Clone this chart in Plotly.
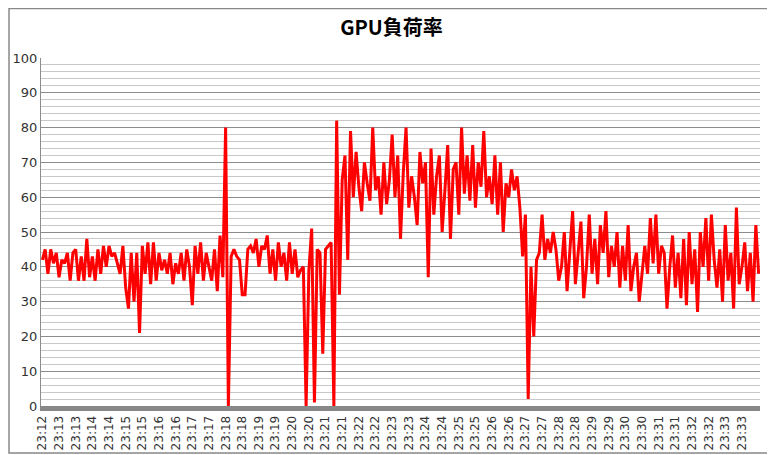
import plotly.graph_objects as go

labels = ["23:12","23:13","23:13","23:14","23:14","23:15","23:15","23:16","23:16","23:17","23:17",
          "23:18","23:18","23:19","23:19","23:20","23:20","23:21","23:21","23:22","23:22","23:23",
          "23:23","23:24","23:24","23:25","23:25","23:26","23:26","23:27","23:27","23:28","23:28",
          "23:29","23:29","23:30","23:30","23:31","23:31","23:32","23:32","23:33","23:33"]

gpu = [42,45,38,45,41,44,37,42,41,44,
       36,44,45,36,43,36,48,37,43,36,
       45,38,46,40,46,43,44,41,38,46,
       34,28,44,30,44,21,46,38,47,35,
       47,36,44,39,42,38,44,35,41,38,
       44,36,45,40,29,46,38,47,36,44,
       40,36,45,33,49,37,
       80,0,43,45,43,42,32,32,45,46,44,48,40,46,45,49,38,45,36,47,40,44,36,47,38,45,37,39,
       40,0,39,51,1,45,44,15,45,46,47,0,82,32,65,72,42,79,60,73,63,
       56,70,64,59,80,62,66,55,70,58,
       65,78,60,72,48,67,80,57,66,60,
       52,73,64,70,37,74,55,66,72,50,
       62,75,48,68,70,55,80,61,72,59,
       75,57,70,63,79,60,66,58,72,55,
       70,50,64,60,68,62,66,
       57,43,55,2,40,20,42,44,
       55,42,48,44,50,45,36,40,50,33,
       46,56,35,43,53,31,40,55,38,48,
       35,52,44,56,37,46,40,50,34,46,
       36,52,33,40,44,30,38,46,38,54,
       41,55,38,46,44,28,40,49,34,44,
       31,48,29,50,35,45,27,50,40,54,
       36,55,42,34,45,30,52,36,44,28,
       57,35,40,47,33,44,30,52,38]

step = 6
xs = list(range(len(gpu)))

fig = go.Figure(go.Scatter(x=xs, y=gpu, mode="lines",
                           line=dict(color="#ff0000", width=3)))

fig.update_layout(
    width=767, height=447,
    margin=dict(l=33, r=15, t=50, b=49),
    paper_bgcolor="white", plot_bgcolor="white",
    showlegend=False,
    font=dict(family="Noto Sans CJK JP, DejaVu Sans", size=12, color="#333333"),
    title=dict(text="<b>GPU負荷率</b>", x=0.5, xanchor="center", y=0.955, yanchor="middle",
               font=dict(size=20, color="black", family="Noto Sans CJK JP")),
    shapes=[dict(type="rect", xref="paper", yref="paper",
                 x0=-0.0445, x1=1.018, y0=-0.135, y1=1.142,
                 line=dict(color="#888888", width=1.5))],
)
fig.update_xaxes(range=[-0.5, len(gpu) - 0.5], automargin=False,
                 tickvals=[i * step for i in range(len(labels))], ticktext=labels,
                 tickangle=-90, showgrid=False, zeroline=False,
                 showline=True, linecolor="#888888", linewidth=5,
                 tickfont=dict(size=12, family="DejaVu Sans", color="#333333"))
fig.update_yaxes(range=[0, 100], dtick=10, gridcolor="#8c8c8c", gridwidth=1, automargin=False,
                 zeroline=False, showline=True, linecolor="#8c8c8c", linewidth=1,
                 minor=dict(dtick=2, showgrid=True, gridcolor="#c8c8c8", gridwidth=1),
                 tickfont=dict(size=13, family="DejaVu Sans", color="#333333"))

fig.write_html("out.html")
